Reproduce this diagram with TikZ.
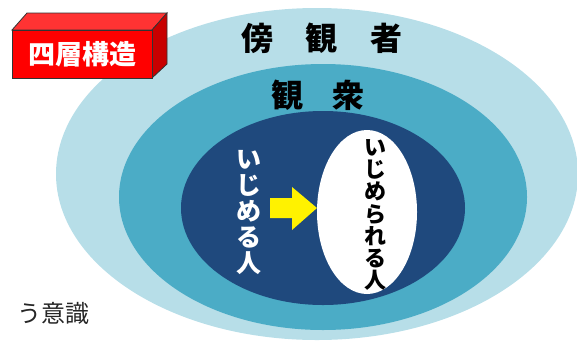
\documentclass[tikz,border=0pt]{standalone}
\usepackage{fontspec}
\usetikzlibrary{shapes.geometric}
\newfontfamily\jp{Noto Sans CJK JP}
\definecolor{outerblue}{HTML}{B7DEE8}
\definecolor{midblue}{HTML}{4BACC6}
\definecolor{innerblue}{HTML}{1F497D}
\definecolor{boxred}{HTML}{FF0000}
\definecolor{boxtop}{HTML}{FF3333}
\definecolor{boxside}{HTML}{C80000}
\tikzset{
  layer/.style={ellipse, inner sep=0pt, draw=none},
  bigtitle/.style={font=\jp\bfseries\fontsize{32}{34}\selectfont, text=black, inner sep=0pt},
  vtext/.style={align=center, inner sep=0pt}
}
\begin{document}
\begin{tikzpicture}[x=1pt,y=-1pt]
\useasboundingbox (0,0) rectangle (577,346);
\clip (0,0) rectangle (577,346);
% layers
\node[layer, fill=outerblue, minimum width=522pt, minimum height=332pt] (outer) at (317,174) {};
\node[layer, fill=midblue, minimum width=408pt, minimum height=266pt] (middle) at (323,197) {};
\node[layer, fill=innerblue, minimum width=284pt, minimum height=194pt] (inner) at (323,208) {};
\node[layer, fill=white, minimum width=100pt, minimum height=164pt] (victim) at (367,212) {};
% titles
\node[bigtitle] (bystander) at (322,38) {傍\hspace{33pt}観\hspace{33pt}者};
\node[bigtitle] (audience) at (318,95) {観\hspace{29pt}衆};
% vertical texts
\node[vtext, text=white, font=\jp\bfseries\fontsize{25}{26}\selectfont] (bully) at (249,213)
  {い\\じ\\め\\る\\人};
\node[vtext, text=black, font=\jp\bfseries\fontsize{22}{22.3}\selectfont] (victimtext) at (375,215)
  {い\\じ\\め\\ら\\れ\\る\\人};
% yellow arrow
\fill[yellow] (270,198) -- (292,198) -- (292,187) -- (317,208) -- (292,230) -- (292,218) -- (270,218) -- cycle;
% red 3D box
\fill[boxtop, draw=black!80, line width=0.8pt] (12,30) -- (27,13) -- (167,13) -- (152,30) -- cycle;
\fill[boxside, draw=black!80, line width=0.8pt] (152,30) -- (167,13) -- (167,64) -- (152,78) -- cycle;
\node[draw=black!80, line width=0.8pt, fill=boxred, minimum width=140pt, minimum height=48pt, inner sep=0pt,
  text=white, font=\jp\bfseries\fontsize{27}{28}\selectfont] (label) at (82,54) {四層構造};
% bottom text
\node[anchor=east, inner sep=0pt, font=\jp\fontsize{24}{26}\selectfont, text=black!85] (note) at (90,313) {う意識};
\end{tikzpicture}
\end{document}
